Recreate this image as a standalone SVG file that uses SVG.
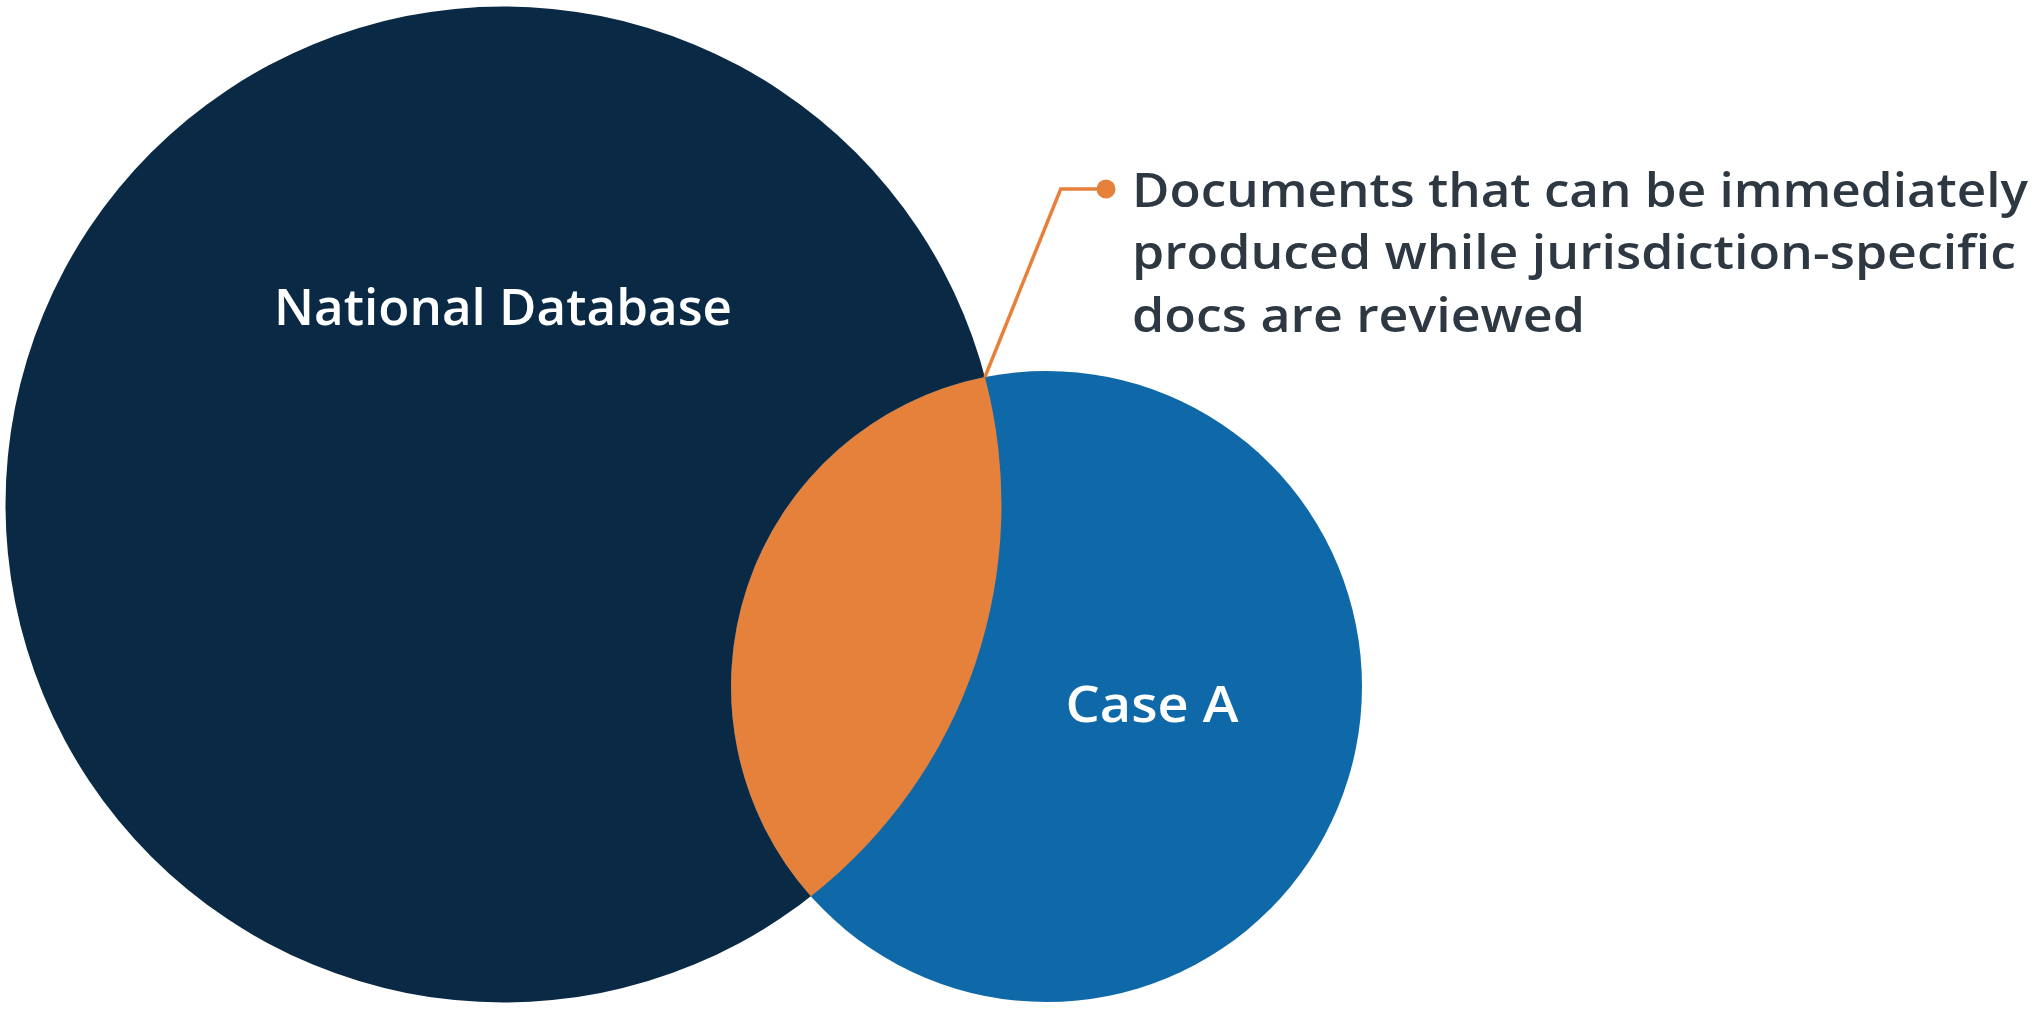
<svg xmlns="http://www.w3.org/2000/svg" width="2044" height="1012" viewBox="0 0 2044 1012">
<style>
.lbl{font-family:"Open Sans",Lato,"Liberation Sans",sans-serif;font-weight:600;fill:#ffffff;font-size:50px;text-anchor:middle}
.note{font-family:"Open Sans",Lato,"Liberation Sans",sans-serif;font-weight:600;fill:#2d3843;font-size:47px}
.conn{fill:none;stroke:#e5813b;stroke-width:3.5;stroke-linejoin:miter}
</style>
<rect width="2044" height="1012" fill="#ffffff"/>
<g id="national-database">
<circle cx="503.5" cy="504.5" r="498" fill="#0a2944"/>
<text class="lbl" x="503" y="325" textLength="458" lengthAdjust="spacingAndGlyphs">National Database</text>
</g>
<g id="case-a">
<circle cx="1046.5" cy="686.5" r="315.5" fill="#0f69a8"/>
<text class="lbl" x="1152" y="722" textLength="173" lengthAdjust="spacingAndGlyphs">Case A</text>
</g>
<g id="overlap">
<path d="M984.9,377.1 A315.5,315.5 0 0 0 810.9,896.3 A498,498 0 0 0 984.9,377.1 Z" fill="#e5813b"/>
</g>
<g id="connectors">
<polyline class="conn" points="984.9,377.1 1060.7,189 1106,189"/>
<circle cx="1106" cy="189" r="9.5" fill="#e5813b"/>
</g>
<g id="callout">
<text class="note" x="1132" y="207.3" textLength="896" lengthAdjust="spacingAndGlyphs">Documents that can be immediately</text>
<text class="note" x="1132" y="269.3" textLength="884" lengthAdjust="spacingAndGlyphs">produced while jurisdiction-specific</text>
<text class="note" x="1132" y="331.7" textLength="453" lengthAdjust="spacingAndGlyphs">docs are reviewed</text>
</g>
</svg>
